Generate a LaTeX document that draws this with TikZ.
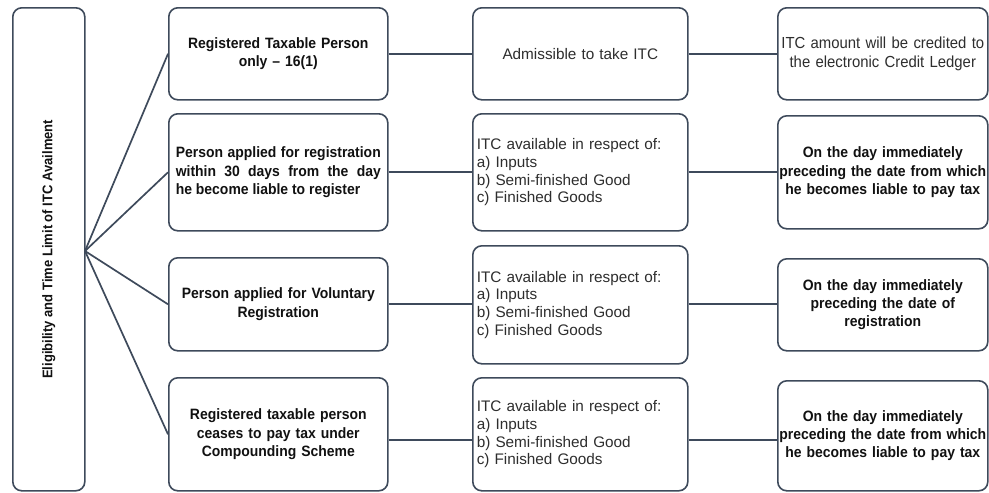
\documentclass[tikz,border=0pt]{standalone}
\usepackage{fontspec}
\setmainfont{Liberation Sans}
\newfontfamily\condsans[FakeStretch=0.93,Ligatures=TeX]{Liberation Sans}
\definecolor{edge}{HTML}{3E4A5B}
\definecolor{ink}{HTML}{111111}
\definecolor{softink}{HTML}{2E2E2E}
\newcommand\regtext{\fontsize{15.3}{17.8}\selectfont}
\newcommand\boldtext{\condsans\bfseries\fontsize{15}{18.3}\selectfont}
\begin{document}
\begin{tikzpicture}[x=1pt,y=-1pt,
  box/.style={draw=edge, line width=1.6pt, rounded corners=9pt, inner sep=0pt,
    anchor=north west, fill=white},
  col1/.style={box, minimum width=219pt, text width=205pt, align=center, text=ink, font=\boldtext},
  col2/.style={box, minimum width=215pt, text width=207pt, align=left, text=softink, font=\regtext},
  col3/.style={box, minimum width=210pt, text width=210pt, align=center, text=ink, font=\boldtext},
  link/.style={draw=edge, line width=1.7pt}]
\useasboundingbox (0,0) rectangle (989,493);

% title column
\node[box, minimum width=72pt, minimum height=483pt] (title) at (12,7) {};
\node[rotate=90, font=\condsans\bfseries\fontsize{14}{16}\selectfont, text=ink] (titletext) at (title.center) {Eligibility and Time Limit of ITC Availment};
\coordinate (hub) at (85,251);

% first column: who may claim
\node[col1, minimum height=92pt] (a1) at (168,7) {Registered Taxable Person\\only – 16(1)};
\node[col1, minimum height=117pt, align=justify] (a2) at (168,113) {Person applied for registration\linebreak within 30 days from the day\linebreak he become liable to register};
\node[col1, minimum height=93pt] (a3) at (168,257) {Person applied for Voluntary\\Registration};
\node[col1, minimum height=113pt] (a4) at (168,377) {Registered taxable person\\ceases to pay tax under\\Compounding Scheme};

% second column: what is available
\node[col2, minimum height=92pt, align=center] (b1) at (472,7) {Admissible to take ITC};
\node[col2, minimum height=117pt] (b2) at (472,113) {ITC available in respect of:\\a) Inputs\\b) Semi-finished Good\\c) Finished Goods};
\node[col2, minimum height=118pt] (b3) at (472,245) {ITC available in respect of:\\a) Inputs\\b) Semi-finished Good\\c) Finished Goods};
\node[col2, minimum height=113pt] (b4) at (472,377) {ITC available in respect of:\\a) Inputs\\b) Semi-finished Good\\c) Finished Goods};

% third column: when
\node[col3, minimum height=92pt, font=\condsans\fontsize{16}{18.3}\selectfont, text=softink] (c1) at (777,7) {ITC amount will be credited to\\the electronic Credit Ledger};
\node[col3, minimum height=113pt] (c2) at (777,115) {On the day immediately\\preceding the date from which\\he becomes liable to pay tax};
\node[col3, minimum height=92pt] (c3) at (777,258) {On the day immediately\\preceding the date of\\registration};
\node[col3, minimum height=110pt] (c4) at (777,380) {On the day immediately\\preceding the date from which\\he becomes liable to pay tax};

% fan from the title column
\foreach \n in {a1,a2,a3,a4}
  \draw[link] (hub) -- (\n.west);

% row connectors
\draw[link] (a1.east) -- (b1.west);
\draw[link] (b1.east) -- (c1.west);
\draw[link] (a2.east) -- (b2.west);
\draw[link] (b2.east) -- (c2.west);
\draw[link] (a3.east) -- (a3.east -| b3.west);
\draw[link] (b3.east |- a3.east) -- (a3.east -| c3.west);
\draw[link] ([yshift=-6pt]a4.east) -- ([yshift=-6pt]a4.east -| b4.west);
\draw[link] ([yshift=-6pt]a4.east -| b4.east) -- ([yshift=-6pt]a4.east -| c4.west);
\end{tikzpicture}
\end{document}
